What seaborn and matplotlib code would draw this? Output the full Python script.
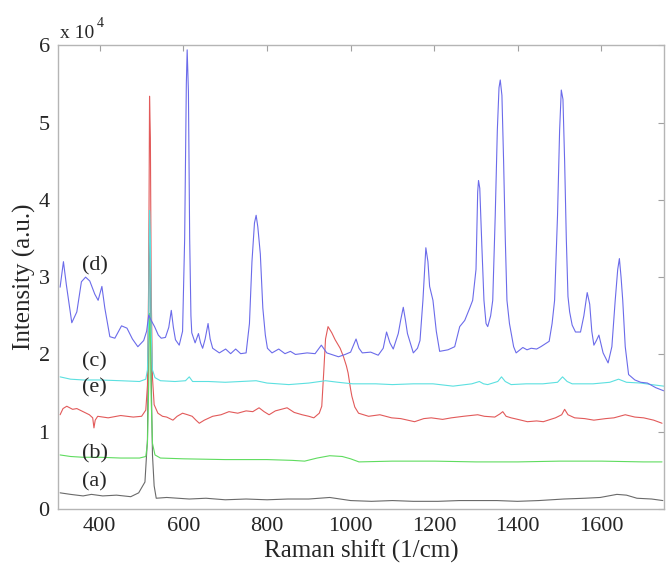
import matplotlib
matplotlib.use("Agg")
import matplotlib.pyplot as plt
import seaborn as sns
import pandas as pd

# Raman spectra, intensity in units of 1e4 (a.u.)
# (d) blue
d_shift = [305, 313, 320, 333, 345, 356, 366, 376, 388, 396, 405, 412, 424, 436, 452, 465, 478, 491,
           505, 512, 517, 522, 531, 540, 547, 557, 565, 571, 576, 581, 590, 598, 603, 607, 609, 612,
           615, 618, 620, 628, 636, 641, 646, 652, 659, 664, 670, 686, 701, 713, 725, 737, 750, 758,
           764, 770, 774, 778, 784, 790, 796, 801, 812, 828, 843, 856, 868, 896, 915, 930, 943, 971,
           987, 1000, 1013, 1020, 1028, 1048, 1066, 1078, 1086, 1094, 1102, 1114, 1120, 1126, 1131,
           1136, 1150, 1160, 1166, 1173, 1180, 1185, 1189, 1197, 1205, 1213, 1233, 1249, 1261, 1273,
           1285, 1292, 1300, 1304, 1306, 1309, 1314, 1319, 1324, 1328, 1335, 1340, 1346, 1351, 1355,
           1358, 1362, 1366, 1370, 1374, 1380, 1390, 1396, 1412, 1422, 1432, 1445, 1455, 1475, 1482,
           1488, 1495, 1500, 1504, 1508, 1512, 1516, 1520, 1524, 1530, 1538, 1550, 1558, 1566, 1572,
           1577, 1582, 1588, 1594, 1604, 1616, 1625, 1633, 1639, 1643, 1647, 1651, 1657, 1665, 1680,
           1694, 1710, 1730, 1749]
d_int = [2.87, 3.20, 2.90, 2.41, 2.55, 2.94, 3.00, 2.95, 2.78, 2.70, 2.88, 2.60, 2.23, 2.21, 2.37, 2.34, 2.20, 2.10,
         2.18, 2.30, 2.51, 2.45, 2.36, 2.25, 2.21, 2.22, 2.35, 2.57, 2.35, 2.19, 2.12, 2.30, 3.50, 5.50, 5.94, 5.40,
         3.50, 2.50, 2.28, 2.15, 2.27, 2.15, 2.08, 2.20, 2.40, 2.20, 2.08, 2.02, 2.07, 2.01, 2.07, 2.01, 2.02, 2.40,
         3.20, 3.70, 3.80, 3.65, 3.30, 2.60, 2.25, 2.08, 2.02, 2.07, 2.01, 2.04, 2.00, 2.02, 2.01, 2.12, 2.02, 1.97,
         2.00, 2.03, 2.20, 2.08, 2.02, 2.03, 1.99, 2.08, 2.29, 2.15, 2.07, 2.27, 2.45, 2.61, 2.45,
         2.27, 2.02, 2.08, 2.18, 2.70, 3.38, 3.20, 2.88, 2.70, 2.30, 2.04, 2.06, 2.10, 2.36, 2.44,
         2.60, 2.70, 3.10, 4.10, 4.25, 4.15, 3.40, 2.70, 2.40, 2.36, 2.50, 2.70, 3.80, 4.90, 5.45,
         5.55, 5.35, 4.50, 3.50, 2.70, 2.40, 2.10, 2.02, 2.09, 2.06, 2.08, 2.07, 2.10, 2.17, 2.40,
         2.70, 3.80, 4.90, 5.42, 5.30, 4.50, 3.50, 2.75, 2.55, 2.38, 2.29, 2.29, 2.50, 2.80, 2.65,
         2.30, 2.12, 2.18, 2.25, 2.02, 1.89, 2.10, 2.70, 3.10, 3.24, 3.00, 2.70, 2.10, 1.74, 1.67,
         1.64, 1.63, 1.57, 1.53]

# (c) cyan
c_shift = [305, 330, 360, 400, 450, 495, 510, 514, 517, 519, 521, 523, 526, 532, 545, 580, 605, 614, 622,
           660, 700, 774, 800, 852, 900, 940, 970, 1005, 1060, 1100, 1150, 1197, 1245, 1290, 1308, 1318,
           1328, 1352, 1361, 1370, 1384, 1420, 1460, 1495, 1507, 1518, 1530, 1580, 1620, 1641, 1660,
           1694, 1720, 1749]
c_int = [1.71, 1.68, 1.67, 1.67, 1.66, 1.65, 1.68, 1.80, 2.50, 3.86, 3.50, 2.30, 1.80, 1.70, 1.66, 1.65, 1.66, 1.71, 1.65,
         1.65, 1.64, 1.66, 1.63, 1.61, 1.63, 1.66, 1.64, 1.62, 1.62, 1.61, 1.62, 1.62, 1.59, 1.62, 1.65, 1.62,
         1.61, 1.65, 1.71, 1.65, 1.61, 1.62, 1.62, 1.64, 1.71, 1.65, 1.62, 1.62, 1.64, 1.68, 1.64,
         1.63, 1.61, 1.59]

# (e) red
e_shift = [305, 312, 321, 335, 345, 360, 375, 383, 386, 389, 395, 420, 450, 480, 500, 510, 514, 517, 519,
           521, 523, 526, 530, 539, 550, 560, 575, 585, 598, 610, 621, 630, 638, 650, 670, 690, 709, 730,
           750, 766, 781, 793, 805, 820, 848, 865, 884, 900, 912, 925, 931, 936, 940, 946, 955, 963, 975,
           983, 990, 994, 1000, 1003, 1010, 1019, 1043, 1070, 1098, 1120, 1153, 1175, 1193, 1220, 1241,
           1270, 1304, 1320, 1345, 1357, 1364, 1372, 1384, 1400, 1423, 1445, 1461, 1490, 1505, 1512,
           1520, 1536, 1560, 1582, 1610, 1630, 1657, 1680, 1701, 1725, 1745]
e_int = [1.22, 1.30, 1.33, 1.29, 1.30, 1.26, 1.22, 1.18, 1.05, 1.15, 1.20, 1.18, 1.21, 1.19, 1.20, 1.28, 1.60, 3.00, 5.34,
         4.80, 2.80, 1.70, 1.35, 1.24, 1.20, 1.19, 1.15, 1.20, 1.24, 1.22, 1.20, 1.15, 1.11, 1.15, 1.20, 1.22, 1.26, 1.24,
         1.27, 1.26, 1.31, 1.26, 1.22, 1.27, 1.31, 1.25, 1.22, 1.20, 1.18, 1.24, 1.33, 1.80, 2.20, 2.36, 2.28, 2.19, 2.08,
         1.97, 1.85, 1.76, 1.55, 1.46, 1.32, 1.24, 1.20, 1.22, 1.18, 1.17, 1.13, 1.17, 1.18, 1.16, 1.18,
         1.20, 1.22, 1.20, 1.19, 1.23, 1.26, 1.20, 1.18, 1.16, 1.13, 1.14, 1.13, 1.18, 1.22, 1.29,
         1.22, 1.18, 1.17, 1.15, 1.17, 1.18, 1.22, 1.19, 1.18, 1.15, 1.11]

# (b) green
b_shift = [305, 330, 360, 400, 450, 495, 510, 514, 517, 519, 521, 523, 526, 532, 545, 600, 700, 800, 860,
           890, 920, 950, 980, 1000, 1020, 1100, 1200, 1300, 1400, 1500, 1600, 1700, 1745]
b_int = [0.70, 0.68, 0.67, 0.67, 0.66, 0.66, 0.68, 0.85, 1.60, 2.53, 2.30, 1.40, 0.85, 0.70, 0.66, 0.65, 0.64, 0.64, 0.63,
         0.62, 0.66, 0.69, 0.68, 0.65, 0.61, 0.62, 0.62, 0.61, 0.61, 0.62, 0.62, 0.61, 0.61]

# (a) black
a_shift = [305, 330, 360, 380, 407, 440, 474, 493, 508, 514, 517, 519, 521, 523, 526, 530, 535, 560, 614,
           654, 700, 750, 800, 850, 900, 950, 1000, 1050, 1100, 1150, 1209, 1260, 1300, 1350, 1399, 1450,
           1510, 1560, 1597, 1637, 1660, 1685, 1720, 1747]
a_int = [0.21, 0.19, 0.17, 0.19, 0.17, 0.18, 0.16, 0.21, 0.35, 0.90, 2.50, 3.74, 3.20, 1.70, 0.70, 0.30, 0.14, 0.15, 0.13,
         0.14, 0.12, 0.13, 0.12, 0.13, 0.13, 0.15, 0.11, 0.10, 0.11, 0.10, 0.10, 0.11, 0.11, 0.11, 0.10, 0.11,
         0.13, 0.14, 0.15, 0.19, 0.18, 0.14, 0.13, 0.11]

series = [
    ("(a)", a_shift, a_int, "#6a6a6a", 0.35),
    ("(b)", b_shift, b_int, "#5fdc5f", 0.72),
    ("(e)", e_shift, e_int, "#e25a5a", 1.57),
    ("(c)", c_shift, c_int, "#5ce0e0", 1.90),
    ("(d)", d_shift, d_int, "#6b6bea", 3.15),
]

sns.set_style("white")
plt.rcParams['font.family'] = ['Liberation Serif', 'DejaVu Serif']

fig = plt.figure(figsize=(6.69, 5.65), dpi=100)
ax = fig.add_axes([0.0867, 0.099, 0.906, 0.821])

for name, xs, ys, col, lab_y in series:
    df = pd.DataFrame({"shift": xs, "intensity": ys})
    sns.lineplot(data=df, x="shift", y="intensity", ax=ax, color=col,
                 linewidth=0.8, estimator=None, sort=False)
    ax.text(357, lab_y, name, fontsize=16, ha="left", va="center")

ax.set_xlim(300, 1750)
ax.set_ylim(0, 6)
ax.set_xticks(range(400, 1601, 200))
ax.set_yticks(range(0, 7))
ax.tick_params(direction="in", top=True, right=True, length=4, width=0.8,
               color="#a0a0a0", labelsize=16, pad=6)
for sp in ax.spines.values():
    sp.set_color("#b5b5b5")
    sp.set_linewidth(1.0)

ax.set_xlabel("Raman shift (1/cm)", fontsize=18, labelpad=2)
ax.set_ylabel("Intensity (a.u.)", fontsize=18, labelpad=2)

fig.text(60 / 669, 1 - 38 / 565, "x 10", fontsize=14, ha="left", va="baseline")
fig.text(97 / 669, 1 - 27 / 565, "4", fontsize=10, ha="left", va="baseline")

fig.savefig("out.png", dpi=100)
